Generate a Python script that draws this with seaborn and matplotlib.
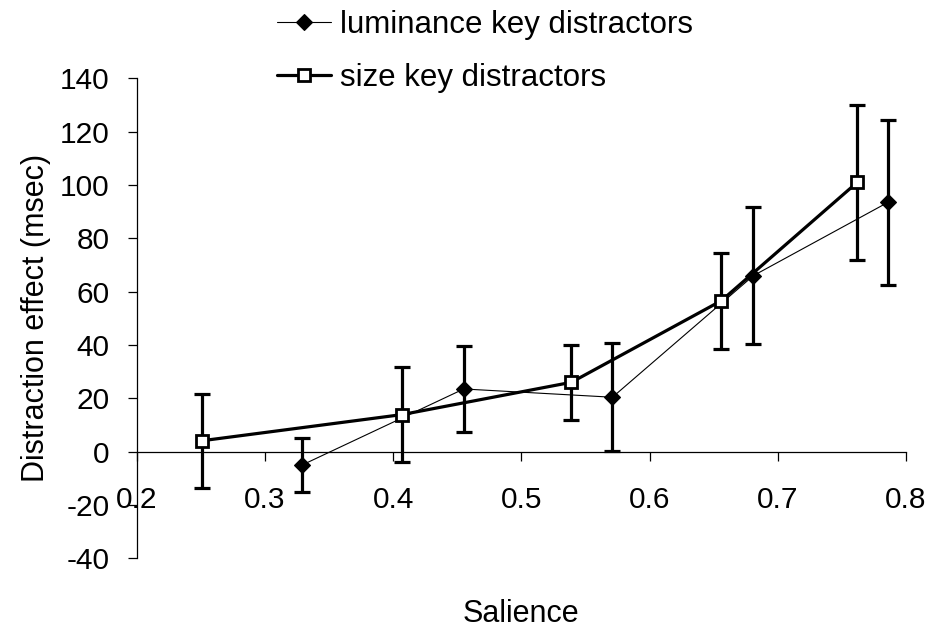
import matplotlib
matplotlib.use("Agg")
import matplotlib.pyplot as plt
import seaborn as sns
import pandas as pd
from matplotlib.lines import Line2D

# ---- data ----
lum_label = "luminance key distractors"
size_label = "size key distractors"
lum_x = [0.329, 0.455, 0.571, 0.681, 0.786]
lum_y = [-5.0, 23.5, 20.4, 66.0, 93.5]
lum_err = [10.1, 16.0, 20.2, 25.8, 31.0]
size_x = [0.251, 0.407, 0.539, 0.656, 0.762]
size_y = [4.1, 13.9, 26.0, 56.6, 101.0]
size_err = [17.6, 17.8, 14.1, 18.0, 29.0]
x_ticks = [0.2, 0.3, 0.4, 0.5, 0.6, 0.7, 0.8]
y_ticks = [-40, -20, 0, 20, 40, 60, 80, 100, 120, 140]
x_title = "Salience"
y_title = "Distraction effect (msec)"

sns.set_style("white")
plt.rcParams["font.family"] = ["Liberation Sans", "DejaVu Sans"]
plt.rcParams["text.color"] = "black"
plt.rcParams["axes.labelcolor"] = "black"
plt.rcParams["xtick.color"] = "black"
plt.rcParams["ytick.color"] = "black"

lum_df = pd.DataFrame({"x": lum_x, "y": lum_y})
size_df = pd.DataFrame({"x": size_x, "y": size_y})

fig = plt.figure(figsize=(9.34, 6.34), dpi=100)
ax = fig.add_axes([0.1465, 0.1194, 0.8235, 0.7571])

# error bars (below the markers)
ax.errorbar(size_x, size_y, yerr=size_err, fmt="none", ecolor="black",
            elinewidth=2.3, capsize=5.8, capthick=2.3, zorder=1)
ax.errorbar(lum_x, lum_y, yerr=lum_err, fmt="none", ecolor="black",
            elinewidth=2.3, capsize=5.8, capthick=2.3, zorder=1)

sns.lineplot(data=lum_df, x="x", y="y", ax=ax, sort=False, estimator=None,
             color="black", linewidth=0.8, marker="D", markersize=7.8,
             markerfacecolor="black", markeredgecolor="black",
             markeredgewidth=0.8, zorder=3)
sns.lineplot(data=size_df, x="x", y="y", ax=ax, sort=False, estimator=None,
             color="black", linewidth=2.3, marker="s", markersize=8.5,
             markerfacecolor="white", markeredgecolor="black",
             markeredgewidth=2.0, zorder=4)

ax.set_xlim(0.2, 0.8)
ax.set_ylim(-40, 140)
ax.set_xticks(x_ticks)
ax.set_xticklabels([f"{v:.1f}" for v in x_ticks])
ax.set_yticks(y_ticks)
ax.set_yticklabels([str(v) for v in y_ticks])

for s in ["top", "right"]:
    ax.spines[s].set_visible(False)
ax.spines["bottom"].set_position(("data", 0))
for s in ["left", "bottom"]:
    ax.spines[s].set_color("black")
    ax.spines[s].set_linewidth(0.9)

ax.tick_params(axis="x", direction="out", length=6.5, width=0.9,
               color="black", labelcolor="black", pad=18.5, labelsize=21.5,
               bottom=True)
ax.tick_params(axis="y", direction="out", length=6.5, width=0.9,
               color="black", labelcolor="black", pad=13, labelsize=21.5,
               left=True)

ax.set_xlabel(x_title, fontsize=22, va="center", color="black")
ax.set_ylabel(y_title, fontsize=22, va="center", color="black")
ax.xaxis.set_label_coords(0.5, -0.115)
ax.yaxis.set_label_coords(-0.131, 0.5)

handles = [
    Line2D([], [], color="black", linewidth=0.8, marker="D", markersize=7.8,
           markerfacecolor="black", markeredgecolor="black", markeredgewidth=0.8),
    Line2D([], [], color="black", linewidth=2.3, marker="s", markersize=8.5,
           markerfacecolor="white", markeredgecolor="black", markeredgewidth=2.0),
]
leg = fig.legend(handles, [lum_label, size_label], loc="center left",
                 bbox_to_anchor=(277 / 934, 1 - 51.5 / 634), frameon=False,
                 fontsize=22.5, handlelength=1.73, handletextpad=0.29,
                 labelspacing=0.72, borderpad=0, borderaxespad=0)
for t in leg.get_texts():
    t.set_color("black")

fig.savefig("out.png", dpi=100)
